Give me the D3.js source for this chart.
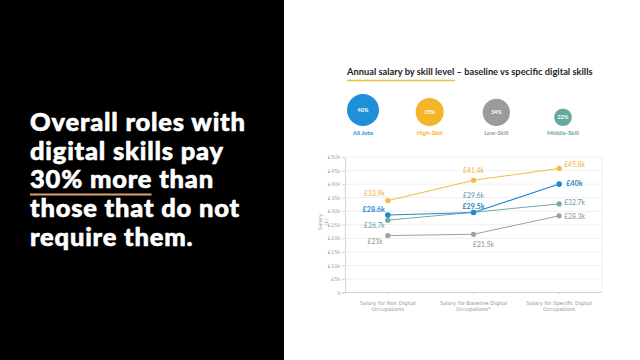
<!DOCTYPE html>
<html>
<head>
<meta charset="utf-8">
<script src="https://cdn.jsdelivr.net/npm/d3@7"></script>
<style>
  html, body { margin: 0; padding: 0; background: #fff; }
  svg { display: block; }
</style>
</head>
<body>
<div id="chart"></div>
<script>
// headline on the left
var headlineLines = ["Overall roles with", "digital skills pay", "30% more than", "those that do not", "require them."];

// bubbles
var bubbleNames = ["All Jobs", "High-Skill", "Low-Skill", "Middle-Skill"];
var bubblePct = [40, 35, 34, 22];

// line chart
var categories = [
    ["Salary for Non Digital", "Occupations"],
    ["Salary for Baseline Digital", "Occupations*"],
    ["Salary for Specific Digital", "Occupations"]
];
var seriesNames = ["High-Skill", "All Jobs", "Middle-Skill", "Low-Skill"];
var highSkill = [33.9, 41.4, 45.8];
var allJobs = [28.6, 29.5, 40];
var middleSkill = [26.7, 29.6, 32.7];
var lowSkill = [21, 21.5, 28.3];
var yTicks = [0, 5, 10, 15, 20, 25, 30, 35, 40, 45, 50];
var yTickLabels = ["0", "£5k", "£10k", "£15k", "£20k", "£25k", "£30k", "£35k", "£40k", "£45k", "£50k"];

var colors = {
    "All Jobs": "#1f8fd8",
    "High-Skill": "#f4b429",
    "Low-Skill": "#9b9b9b",
    "Middle-Skill": "#65a8a0"
};
var lineColors = {
    "All Jobs": "#2288c8",
    "High-Skill": "#f2bb45",
    "Middle-Skill": "#73aaa5",
    "Low-Skill": "#a0a0a0"
};
var labelColors = {
    "All Jobs": "#1f86c8",
    "High-Skill": "#f0b032",
    "Middle-Skill": "#5c9aa6",
    "Low-Skill": "#8f8f8f"
};

// label placement per series/point: [dx, dy, anchor]
var labelPlace = {
    "High-Skill": [[-3, -5, "end"], [0, -7, "middle"], [5, -1, "start"]],
    "All Jobs": [[-3, -3, "end"], [0, -4, "middle"], [7, 2, "start"]],
    "Middle-Skill": [[-3, 8, "end"], [0, -14, "middle"], [5, 1, "start"]],
    "Low-Skill": [[-5, 8, "end"], [10, 13, "middle"], [5, 3, "start"]]
};

var width = 640, height = 360;
var svg = d3.select("#chart").append("svg")
    .attr("width", width)
    .attr("height", height);

// black panel
svg.append("rect").attr("x", 0).attr("y", 0).attr("width", 284).attr("height", height).attr("fill", "#000");

var headSize = 25.5;
var head = svg.append("g").attr("font-family", "Lato, sans-serif")
    .attr("font-weight", 900).attr("fill", "#fff").attr("font-size", headSize)
    .attr("stroke", "#fff").attr("stroke-width", 0.6).attr("stroke-linejoin", "round");
head.selectAll("text")
    .data(headlineLines)
    .enter()
    .append("text")
    .attr("x", 30)
    .attr("y", function (d, i) { return 131 + i * 28.7; })
    .text(function (d) { return d; });

// widen the letters a little so the first line spans like the picture
var firstLen = head.select("text").node().getComputedTextLength();
var spacing = Math.max(0, (215 - firstLen) / (headlineLines[0].length - 1));
head.selectAll("text").attr("letter-spacing", spacing);

// underline under "30% more"
var tmp = head.append("text").attr("letter-spacing", spacing).attr("visibility", "hidden").text("30% more");
var ulLen = tmp.node().getComputedTextLength() - spacing;
tmp.remove();
svg.append("line")
    .attr("x1", 30).attr("x2", 30 + ulLen)
    .attr("y1", 194.5).attr("y2", 194.5)
    .attr("stroke", "#d9a46c").attr("stroke-width", 2);

// title
svg.append("text")
    .attr("x", 347).attr("y", 75)
    .attr("font-family", "Lato, sans-serif")
    .attr("font-weight", 700)
    .attr("font-size", 9.3)
    .attr("fill", "#222")
    .text("Annual salary by skill level \u2013 baseline vs specific digital skills");
svg.append("line")
    .attr("x1", 347).attr("x2", 455)
    .attr("y1", 80.5).attr("y2", 80.5)
    .attr("stroke", "#f0c23c").attr("stroke-width", 1.3);

// bubbles
var bx = d3.scalePoint().domain(bubbleNames).range([363, 563]);
var br = d3.scaleLinear().domain([0, 40]).range([0, 16]);
var bubbles = svg.append("g").attr("font-family", "Lato, sans-serif");
bubbleNames.forEach(function (name, i) {
    var r = br(bubblePct[i]);
    var cy = 126 - r;
    bubbles.append("circle")
        .attr("cx", bx(name)).attr("cy", cy).attr("r", r)
        .attr("fill", colors[name]);
    bubbles.append("text")
        .attr("x", bx(name)).attr("y", cy + 2)
        .attr("text-anchor", "middle")
        .attr("font-size", 5.5).attr("font-weight", 700)
        .attr("fill", "#fff")
        .text(bubblePct[i] + "%");
    bubbles.append("text")
        .attr("x", bx(name)).attr("y", 135)
        .attr("text-anchor", "middle")
        .attr("font-size", 6).attr("font-weight", 700)
        .attr("fill", colors[name])
        .text(name);
});

// line chart
var plot = { left: 345, right: 602, top: 157, bottom: 292.5 };
var x = d3.scaleBand().domain(d3.range(categories.length)).range([plot.left, plot.right]);
var y = d3.scaleLinear().domain([0, 50]).range([plot.bottom, plot.top]);
var cx = function (i) { return x(i) + x.bandwidth() / 2; };

var g = svg.append("g").attr("font-family", "'DejaVu Sans', sans-serif");

g.append("g")
    .selectAll("line")
    .data(yTicks)
    .enter()
    .append("line")
    .attr("x1", plot.left).attr("x2", plot.right)
    .attr("y1", function (d) { return y(d); })
    .attr("y2", function (d) { return y(d); })
    .attr("stroke", "#ececec").attr("stroke-width", 0.8);

g.append("line").attr("x1", plot.right).attr("x2", plot.right)
    .attr("y1", plot.top).attr("y2", plot.bottom)
    .attr("stroke", "#ececec").attr("stroke-width", 0.8);

var yAxis = d3.axisLeft(y).tickValues(yTicks)
    .tickFormat(function (d, i) { return yTickLabels[i]; })
    .tickSize(3).tickPadding(1.5);
var ya = g.append("g").attr("transform", "translate(" + plot.left + ",0)").call(yAxis);
ya.select(".domain").attr("stroke", "#d4d4d4");
ya.selectAll(".tick line").attr("stroke", "#d4d4d4");
ya.selectAll("text").attr("font-size", 5.2).attr("fill", "#a6a6a6")
    .attr("font-family", "'DejaVu Sans', sans-serif");

g.append("line").attr("x1", plot.left).attr("x2", plot.right)
    .attr("y1", plot.bottom).attr("y2", plot.bottom)
    .attr("stroke", "#d4d4d4").attr("stroke-width", 1);

g.append("text")
    .attr("transform", "translate(322,222) rotate(-90)")
    .attr("text-anchor", "middle")
    .attr("font-size", 5.2).attr("fill", "#a6a6a6")
    .text("Salary");
g.append("text")
    .attr("transform", "translate(328,222) rotate(-90)")
    .attr("text-anchor", "middle")
    .attr("font-size", 5.2).attr("fill", "#a6a6a6")
    .text("(£)");

// category labels
categories.forEach(function (lines, i) {
    g.append("line").attr("x1", cx(i)).attr("x2", cx(i))
        .attr("y1", plot.bottom).attr("y2", plot.bottom + 2)
        .attr("stroke", "#d6d6d6");
    lines.forEach(function (t, j) {
        g.append("text")
            .attr("x", cx(i)).attr("y", 305 + j * 6.3)
            .attr("text-anchor", "middle")
            .attr("font-size", 5.2).attr("fill", "#939393")
            .text(t);
    });
});

var seriesValues = [highSkill, allJobs, middleSkill, lowSkill];
var line = d3.line().x(function (d, i) { return cx(i); }).y(function (d) { return y(d); });

// draw back to front so All Jobs sits on top
var order = [3, 2, 0, 1];
order.forEach(function (k) {
    var name = seriesNames[k], vals = seriesValues[k];
    g.append("path").datum(vals)
        .attr("d", line)
        .attr("fill", "none")
        .attr("stroke", lineColors[name])
        .attr("stroke-width", name === "All Jobs" ? 1.1 : 1);
    g.selectAll(null).data(vals).enter().append("circle")
        .attr("cx", function (d, i) { return cx(i); })
        .attr("cy", function (d) { return y(d); })
        .attr("r", name === "All Jobs" ? 2.8 : 2.6)
        .attr("fill", lineColors[name]);
});
order.forEach(function (k) {
    var name = seriesNames[k], vals = seriesValues[k];
    g.selectAll(null).data(vals).enter().append("text")
        .attr("x", function (d, i) { return cx(i) + labelPlace[name][i][0]; })
        .attr("y", function (d, i) { return y(d) + labelPlace[name][i][1]; })
        .attr("text-anchor", function (d, i) { return labelPlace[name][i][2]; })
        .attr("font-size", name === "All Jobs" ? 7.2 : 6.8)
        .attr("font-weight", name === "All Jobs" ? 700 : 400)
        .attr("font-family", "Lato, sans-serif")
        .attr("fill", labelColors[name])
        .text(function (d) { return "£" + d + "k"; });
});
</script>
</body>
</html>
